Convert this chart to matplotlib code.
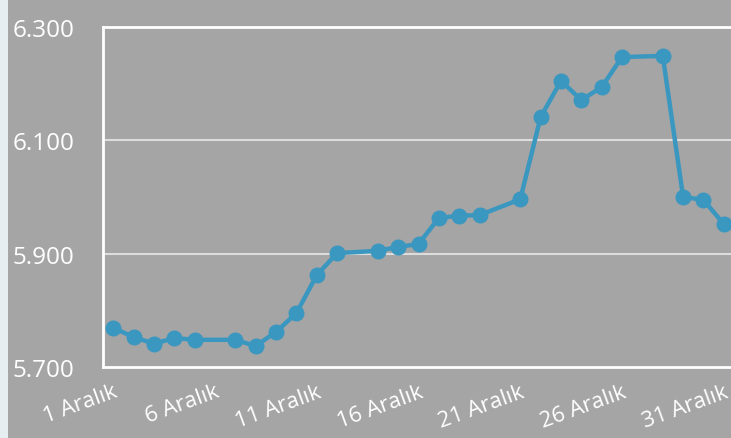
import matplotlib.pyplot as plt
from matplotlib.patches import Rectangle

days = [1, 2, 3, 4, 5, 7, 8, 9, 10, 11, 12, 14, 15, 16, 17, 18, 19,
        21, 22, 23, 24, 25, 26, 28, 29, 30, 31]
values = [5.769, 5.753, 5.741, 5.751, 5.748, 5.748, 5.737, 5.762, 5.795,
          5.862, 5.901, 5.905, 5.912, 5.917, 5.963, 5.967, 5.968,
          5.996, 6.141, 6.205, 6.171, 6.194, 6.247, 6.249, 6.000, 5.995, 5.952]
xtick_days = [1, 6, 11, 16, 21, 26, 31]
xtick_labels = ["1 Aralık", "6 Aralık", "11 Aralık", "16 Aralık",
                "21 Aralık", "26 Aralık", "31 Aralık"]
yticks = [5.7, 5.9, 6.1, 6.3]
ytick_labels = ["5.700", "5.900", "6.100", "6.300"]

bg = "#a5a5a5"
fig = plt.figure(figsize=(7.31, 4.39), dpi=100)
fig.patch.set_facecolor(bg)
fig.patches.append(Rectangle((0, 0), 8 / 731, 1, transform=fig.transFigure,
                             facecolor="#e6eef2", edgecolor="none"))

W, H = 731, 439
ax = fig.add_axes([103 / W, 1 - 368 / H, (734 - 103) / W, (368 - 28) / H])
ax.set_facecolor(bg)

ax.plot(days, values, color="#3a97c0", lw=3.2, marker="o", ms=10.5, zorder=3,
        clip_on=False)

ax.set_xlim(0.5, 31.5)
ax.set_ylim(5.7, 6.3)
ax.set_yticks(yticks)
ax.set_yticklabels(ytick_labels)
ax.set_xticks(xtick_days)
ax.set_xticklabels(xtick_labels)

for y in [5.9, 6.1]:
    ax.axhline(y, color="#dcdcdc", lw=1.5, zorder=1)

for s in ["left", "top", "bottom"]:
    ax.spines[s].set_color("white")
    ax.spines[s].set_linewidth(2)
ax.spines["right"].set_visible(False)

font = "Open Sans"
ax.tick_params(axis="y", length=0, pad=65, labelsize=17.5, labelcolor="white")
for lab in ax.get_yticklabels():
    lab.set_horizontalalignment("left")
    lab.set_family(font)
ax.tick_params(axis="x", length=0, pad=10, labelsize=16, labelcolor="white")
for lab in ax.get_xticklabels():
    lab.set_rotation(20)
    lab.set_rotation_mode("anchor")
    lab.set_horizontalalignment("right")
    lab.set_verticalalignment("top")
    lab.set_family(font)

fig.savefig("out.png", dpi=100, facecolor=bg)
